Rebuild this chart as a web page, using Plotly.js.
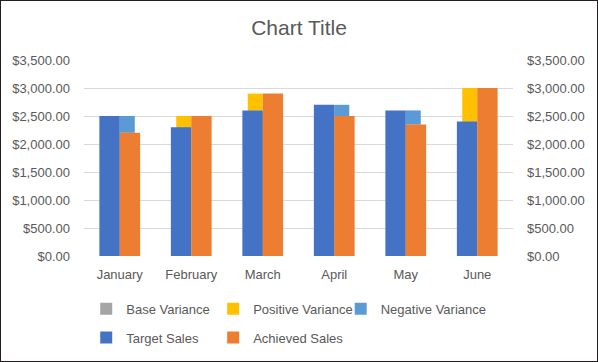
<!DOCTYPE html>
<html>
<head>
<meta charset="utf-8">
<script src="https://cdn.plot.ly/plotly-3.0.1.min.js"></script>
<style>
  html, body { margin: 0; padding: 0; background: #fff; }
  #chart { width: 596px; height: 360px; border: 1px solid #231f20; }
</style>
</head>
<body>
<div id="chart"></div>
<script>
const months = ['January', 'February', 'March', 'April', 'May', 'June'];
const targetSales = [2500, 2300, 2600, 2700, 2600, 2400];
const achievedSales = [2200, 2500, 2900, 2500, 2350, 3000];
const baseVariance = [2200, 2300, 2600, 2500, 2350, 2400];
const positiveVariance = [0, 200, 300, 0, 0, 600];
const negativeVariance = [300, 0, 0, 200, 250, 0];
const yTicks = [0, 500, 1000, 1500, 2000, 2500, 3000, 3500];

const FONT = 'Liberation Sans, Arial, sans-serif';
const GREY = '#595959';
const MAINW = 0.285, VARW = 0.21;

const traces = [
  {
    type: 'bar', name: 'Base Variance', x: months, y: baseVariance,
    offset: positiveVariance.map(v => v > 0 ? -VARW : 0), width: VARW,
    marker: { color: '#A5A5A5' }, legend: 'legend', hoverinfo: 'skip'
  },
  {
    type: 'bar', name: 'Positive Variance', x: months, y: positiveVariance,
    base: baseVariance, offset: -VARW, width: VARW,
    marker: { color: '#FFC000' }, legend: 'legend2', hoverinfo: 'skip'
  },
  {
    type: 'bar', name: 'Negative Variance', x: months, y: negativeVariance,
    base: baseVariance, offset: 0, width: VARW,
    marker: { color: '#5B9BD5' }, legend: 'legend3', hoverinfo: 'skip'
  },
  {
    type: 'bar', name: 'Target Sales', x: months, y: targetSales,
    offset: -MAINW, width: MAINW,
    marker: { color: '#4472C4' }, legend: 'legend4', hoverinfo: 'skip'
  },
  {
    type: 'bar', name: 'Achieved Sales', x: months, y: achievedSales,
    offset: 0, width: MAINW,
    marker: { color: '#ED7D31' }, legend: 'legend5', hoverinfo: 'skip'
  },
  {
    type: 'scatter', mode: 'markers', x: months, y: months.map(() => null),
    yaxis: 'y2', showlegend: false, hoverinfo: 'skip'
  }
];

const axisCommon = {
  range: [0, 3500], tickvals: yTicks, tickformat: '$,.2f',
  tickfont: { family: FONT, size: 13, color: GREY },
  showline: false, zeroline: false, fixedrange: true,
  ticks: '', ticklabelstandoff: 13
};

function legendAt(x, y) {
  return {
    orientation: 'h', xref: 'container', yref: 'container',
    xanchor: 'left', yanchor: 'middle', x: x, y: y,
    font: { family: FONT, size: 13, color: GREY },
    bgcolor: 'rgba(0,0,0,0)', borderwidth: 0,
    itemclick: false, itemdoubleclick: false
  };
}

const row1 = 0.145, row2 = 0.065;
const col1 = 0.143, col2 = 0.356, col3 = 0.570;

const layout = {
  width: 596, height: 360,
  margin: { l: 83, r: 84, t: 59, b: 105 },
  paper_bgcolor: '#fff', plot_bgcolor: '#fff',
  barmode: 'overlay',
  title: {
    text: 'Chart Title', x: 0.5, xanchor: 'center', y: 0.925, yanchor: 'middle',
    font: { family: FONT, size: 21, color: GREY }
  },
  xaxis: {
    type: 'category', tickfont: { family: FONT, size: 13, color: GREY },
    showgrid: false, showline: false, zeroline: false, ticks: '',
    ticklabelstandoff: 9, fixedrange: true
  },
  yaxis: Object.assign({}, axisCommon, { showgrid: true, gridcolor: '#D9D9D9', gridwidth: 1 }),
  yaxis2: Object.assign({}, axisCommon, { overlaying: 'y', side: 'right', showgrid: false }),
  legend: legendAt(col1, row1),
  legend2: legendAt(col2, row1),
  legend3: legendAt(col3, row1),
  legend4: legendAt(col1, row2),
  legend5: legendAt(col2, row2),
  showlegend: true
};

Plotly.newPlot('chart', traces, layout, { displayModeBar: false, staticPlot: true });
</script>
</body>
</html>
